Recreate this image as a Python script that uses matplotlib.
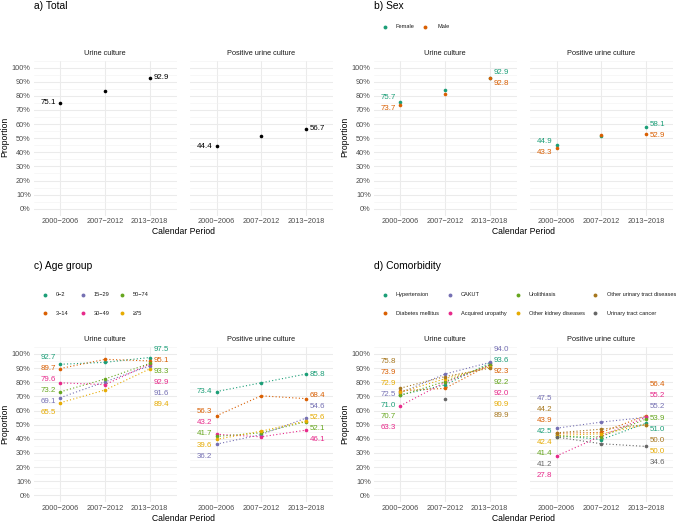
# Urine culture proportions by calendar period, four panels (a-d)
import numpy as np
import matplotlib
matplotlib.use("Agg")
import matplotlib.pyplot as plt
from matplotlib.ticker import FixedLocator, FuncFormatter

plt.rcParams['font.family'] = ['Liberation Sans', 'DejaVu Sans']

W, H = 676, 523

periods = ["2000−2006", "2007−2012", "2013−2018"]
facets = ["Urine culture", "Positive urine culture"]

# a) total
total_urine = [75.1, 83.5, 92.9]
total_pos = [44.4, 51.8, 56.7]

# b) sex
sex_groups = ["Female", "Male"]
sex_urine = [[75.7, 84.2, 92.9],
             [73.7, 81.6, 92.8]]
sex_pos = [[44.9, 51.6, 58.1],
           [43.3, 52.5, 52.9]]

# c) age group
age_groups = ["0−2", "3−14", "15−29", "30−49", "50−74", "≥75"]
age_urine = [[92.7, 94.1, 97.5],
             [89.7, 96.2, 95.1],
             [69.1, 80.3, 91.6],
             [79.6, 78.3, 92.9],
             [73.2, 82.3, 93.3],
             [65.5, 74.5, 89.4]]
age_pos = [[73.4, 79.6, 85.8],
           [56.3, 70.4, 68.4],
           [36.2, 43.0, 54.6],
           [43.2, 41.4, 46.1],
           [41.7, 44.2, 52.1],
           [39.6, 45.4, 52.6]]

# d) comorbidity
comorb_groups = ["Hypertension", "Diabetes mellitus", "CAKUT", "Acquired uropathy",
                 "Urolithiasis", "Other kidney diseases", "Other urinary tract diseases",
                 "Urinary tract cancer"]
comorb_urine = [[71.0, 78.1, 93.6],
                [73.9, 75.7, 92.3],
                [72.5, 85.8, 94.0],
                [63.3, 80.0, 92.0],
                [70.7, 80.5, 92.2],
                [72.9, 82.5, 90.9],
                [75.8, 84.0, 89.9],
                [np.nan, 68.3, np.nan]]
comorb_pos = [[42.5, 39.4, 51.0],
              [43.9, 44.5, 56.4],
              [47.5, 51.8, 55.2],
              [27.8, 42.0, 55.2],
              [41.4, 41.5, 53.9],
              [42.4, 43.5, 50.0],
              [44.2, 46.8, 50.0],
              [41.2, 36.5, 34.6]]

dark2 = ["#1B9E77", "#D95F02", "#7570B3", "#E7298A",
         "#66A61E", "#E6AB02", "#A6761D", "#666666"]
age_colors = ["#1B9E77", "#D95F02", "#7570B3", "#E7298A", "#66A61E", "#E6AB02"]


def spread(vals, gap=7.8, lo=1.0, hi=103.0):
    """simple 1d label repel: clusters centred on their mean"""
    idx = list(np.argsort(vals))
    clusters = [[i] for i in idx]

    def bounds(c):
        m = np.mean([vals[i] for i in c])
        h = (len(c) - 1) * gap / 2
        m = min(max(m, lo + h), hi - h)
        return m - h, m + h

    merged = True
    while merged:
        merged = False
        for k in range(len(clusters) - 1):
            if bounds(clusters[k])[1] + gap > bounds(clusters[k + 1])[0]:
                clusters[k] = clusters[k] + clusters[k + 1]
                del clusters[k + 1]
                merged = True
                break
    pos = {}
    for c in clusters:
        b0 = bounds(c)[0]
        for j, i in enumerate(c):
            pos[i] = b0 + j * gap
    return [pos[i] for i in range(len(vals))]


def px_axes(fig, x0, x1, y0, y1):
    return fig.add_axes([x0 / W, 1 - y1 / H, (x1 - x0) / W, (y1 - y0) / H])


def draw_facet(ax, series, colors, title, ylabels, lines):
    ax.set_xlim(-0.6, 2.6)
    ax.set_ylim(-5, 105)
    for s in ax.spines.values():
        s.set_visible(False)
    ax.xaxis.set_major_locator(FixedLocator([0, 1, 2]))
    ax.set_xticklabels(periods)
    ax.yaxis.set_major_locator(FixedLocator(np.arange(0, 101, 10)))
    ax.yaxis.set_minor_locator(FixedLocator(np.arange(-5, 106, 10)))
    ax.yaxis.set_major_formatter(FuncFormatter(lambda v, p: f"{v:.0f}%"))
    ax.tick_params(which="both", length=0, labelsize=5.3, labelcolor="#4D4D4D")
    ax.tick_params(axis="y", pad=2)
    ax.tick_params(axis="x", pad=1.8)
    if not ylabels:
        ax.set_yticklabels([])
    ax.grid(which="major", color="#EBEBEB", lw=0.75)
    ax.grid(which="minor", axis="y", color="#F2F2F2", lw=0.4)
    ax.set_axisbelow(True)
    ax.annotate(title, xy=(0.5, 1), xycoords="axes fraction", xytext=(0, 5.3),
                textcoords="offset points", ha="center", va="center",
                fontsize=5.3, color="#1A1A1A")

    x = np.arange(3)
    for vals, col in zip(series, colors):
        vals = np.array(vals, dtype=float)
        if lines:
            ax.plot(x, vals, ls=(0, (1, 2)), lw=0.8, color=col, zorder=2)
        ax.plot(x, vals, "o", ms=2.6, color=col, mec="none", zorder=3)

    # end labels, repelled vertically
    for k, side in [(0, "left"), (2, "right")]:
        items = [(v[k], c) for v, c in zip(series, colors) if not np.isnan(v[k])]
        if not items:
            continue
        ys = spread([v for v, c in items])
        for (v, c), yy in zip(items, ys):
            dx = -3 if side == "left" else 3
            ax.annotate(f"{v:.1f}", xy=(k, yy), xytext=(dx, 0),
                        textcoords="offset points", va="center",
                        ha="right" if side == "left" else "left",
                        fontsize=5.7, color=c, zorder=4)


fig = plt.figure(figsize=(W / 100, H / 100), dpi=100)

# overlay for titles / legends in pixel coordinates
ov = fig.add_axes([0, 0, 1, 1], zorder=-1)
ov.set_xlim(0, W)
ov.set_ylim(H, 0)
ov.axis("off")

panels = [
    ("a) Total", 33.5, [(total_urine,), (total_pos,)], ["black"], None, False),
    ("b) Sex", 373.5, [sex_urine, sex_pos], dark2[:2], sex_groups, False),
    ("c) Age group", 33.5, [age_urine, age_pos], age_colors, age_groups, True),
    ("d) Comorbidity", 373.5, [comorb_urine, comorb_pos], dark2, comorb_groups, True),
]

for n, (ptitle, x0, data, cols, groups, lines) in enumerate(panels):
    top = n >= 2
    y0, y1 = (346.9, 502.4) if top else (60.65, 215.75)
    yoff = 260 if top else 0
    xb = x0 - 33.5
    ax1 = px_axes(fig, x0, x0 + 143, y0, y1)
    ax2 = px_axes(fig, x0 + 156.2, x0 + 299.2, y0, y1)
    if groups is None:
        s1, s2 = [data[0][0]], [data[1][0]]
    else:
        s1, s2 = data
    draw_facet(ax1, s1, cols, facets[0], True, lines)
    draw_facet(ax2, s2, cols, facets[1], False, lines)

    ov.text(xb + 34, yoff + 5.8, ptitle, fontsize=7.4, va="center", ha="left")
    ov.text(xb + 5, 424 if top else 137, "Proportion",
            fontsize=6.2, rotation=90, va="center", ha="center")
    ov.text(xb + 183, 231.7 + (286.6 if top else 0), "Calendar Period",
            fontsize=6.2, va="center", ha="center")

    # legend
    if groups is not None:
        if n == 1:
            mx = [385, 425.3]
            tx = [396, 437]
            ry = [26.7]
            slots = [(0, 0), (1, 0)]
        elif n == 2:
            mx = [45.3, 82.7, 121.7]
            tx = [55.7, 93.3, 132.7]
            ry = [294.7, 313.3]
            slots = [(c, r) for c in range(3) for r in range(2)]
        else:
            mx = [384.7, 450, 518, 595.3]
            tx = [396, 461, 528.7, 606.7]
            ry = [294.7, 313.3]
            slots = [(c, r) for c in range(4) for r in range(2)]
        for g, col, (c, r) in zip(groups, cols, slots):
            ov.plot(mx[c], ry[r], "o", ms=2.8, color=col, mec="none")
            ov.text(tx[c], ry[r], g, fontsize=4.1, va="center", ha="left", color="#1A1A1A")

fig.savefig("out.png", dpi=100)
